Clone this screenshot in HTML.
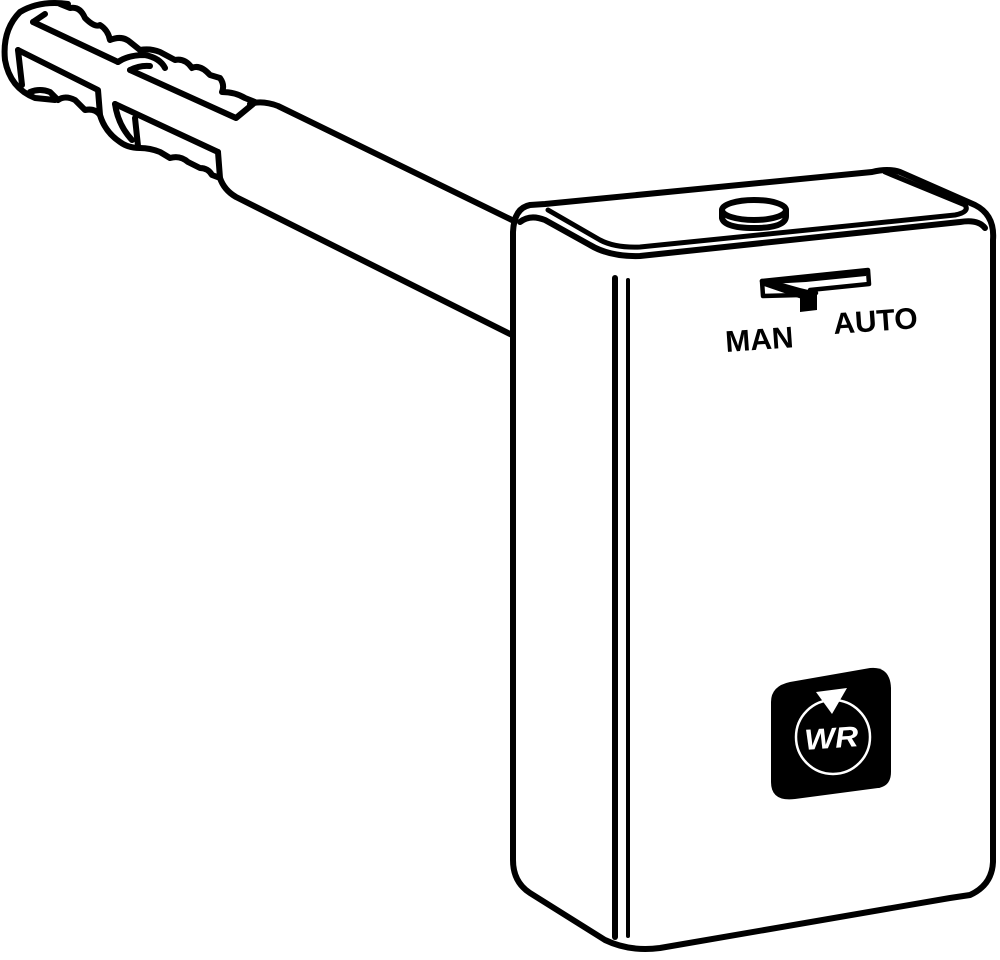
<!DOCTYPE html>
<html><head><style>html,body{margin:0;padding:0;background:#fff;width:1000px;height:960px;overflow:hidden}</style></head>
<body>
<svg width="1000" height="960" viewBox="0 0 1000 960" xmlns="http://www.w3.org/2000/svg">
<g fill="none" stroke="#000" stroke-width="6" stroke-linejoin="round" stroke-linecap="round">
<!-- probe tube -->
<path d="M250,104 Q262,100 278,106 L512,220"/>
<path d="M220,178 Q224,190 236,197 L512,335"/>
<!-- grip end cap -->
<path d="M68,4 Q40,0 20,12 Q2,30 5,60 Q10,88 35,98 L55,100"/>
<!-- upper wavy top edge -->
<path d="M60,4 L70,8 Q80,6 85,18 Q95,28 100,25 Q108,30 110,40 Q122,35 130,42 L140,50 Q150,48 160,52 L175,60 Q185,58 192,68 Q200,64 210,75 L220,78 Q225,85 222,92 Q235,92 245,98 L255,102"/>
<!-- upper slot -->
<path d="M33,22 L118,62"/>
<path d="M33,22 L45,14"/>
<path d="M130,70 L236,118 L253,104"/>
<!-- middle band -->
<path d="M18,50 L98,90 L100,115"/>
<path d="M18,50 L22,85"/>
<path d="M115,104 L218,152"/>
<!-- ring -->
<path d="M118,62 Q128,55 145,55 Q160,58 165,68"/>
<path d="M130,70 Q140,65 150,66"/>
<path d="M115,104 Q118,125 132,140"/>
<path d="M100,115 Q105,132 120,142 Q128,148 140,148"/>
<path d="M135,118 L138,146"/>
<!-- lower wavy -->
<path d="M30,92 Q40,88 50,92 L58,100 Q65,95 75,100 L85,110 Q95,108 100,115"/>
<path d="M140,148 Q150,148 160,152 L170,158 Q180,155 188,162 L200,168 Q208,168 212,175 L220,178 L218,152"/>
<!-- box outline -->
<path d="M545,204 L872,172 Q888,168 900,172 L975,205 Q995,215 993,240 L993,862 Q992,885 970,895 L950,898 L660,948 Q630,952 605,940 L530,893 Q513,882 513,860 L513,232 Q514,208 530,205 Z" fill="#fff"/>
<!-- rim -->
<path d="M520,222 Q530,214 545,220 L590,245 Q610,257 640,256 L960,222 Q978,219 985,228"/>
<path d="M548,210 L600,240 Q615,248 640,247 L955,215 Q970,212 965,205 L885,172" stroke-width="5"/>
<!-- vertical front edge lines -->
<path d="M615,278 L615,937" stroke-width="6"/>
<path d="M628,280 L628,936" stroke-width="4"/>
<!-- knob -->
<ellipse cx="754" cy="210" rx="32" ry="10" fill="#fff"/>
<path d="M722,210 L722,218 Q724,228 754,228 Q786,228 786,216 L786,210"/>
<!-- slider slot -->
<path d="M762,281 L868,270 L869,284 L810,290" stroke-width="4.5"/>
<path d="M762,281 L763,296 L800,295" stroke-width="4.5"/>
<path d="M765,284 L800,296 L816,293" stroke-width="4.5"/>
</g>
<path d="M800,296 L817,293 L817,310 L800,312 Z" fill="#000"/>
<path d="M766,280 L868,271 L866,276 L806,282 L770,284 Z" fill="#000"/>
<path d="M762,281 L800,294 L817,292 L800,288 L768,279 Z" fill="#000"/>
<!-- labels -->
<text x="726" y="352" font-family="Liberation Sans, sans-serif" font-weight="bold" font-size="30" transform="rotate(-4 726 352)">MAN</text>
<text x="834" y="334" font-family="Liberation Sans, sans-serif" font-weight="bold" font-size="30" transform="rotate(-4 834 334)">AUTO</text>
<!-- logo -->
<path d="M790,682 L870,668 Q890,666 891,688 L891,772 Q891,786 878,788 L795,799 Q771,802 771,782 L771,702 Q771,686 790,682 Z" fill="#000"/>
<circle cx="833" cy="737" r="37" fill="none" stroke="#fff" stroke-width="2.5"/>
<path d="M816,692 L847,688 L832,714 Z" fill="#fff"/>
<text x="832" y="748" text-anchor="middle" font-family="Liberation Sans, sans-serif" font-weight="bold" font-style="italic" font-size="29" fill="#fff" transform="rotate(-4 832 748)" textLength="54" lengthAdjust="spacingAndGlyphs">WR</text>
</svg>
</body></html>
